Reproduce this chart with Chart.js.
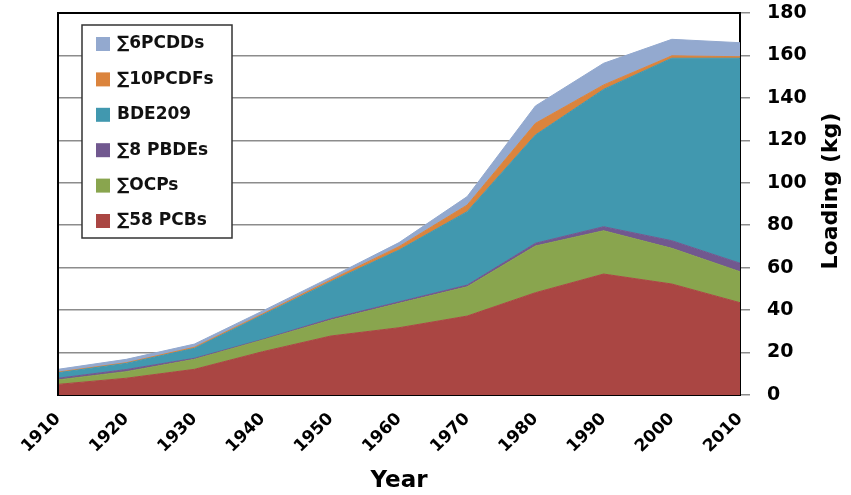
<!DOCTYPE html>
<html lang="en">
<head>
<meta charset="UTF-8" />
<title>Loading by year</title>
<script src="https://cdn.jsdelivr.net/npm/chart.js@4.4.0/dist/chart.umd.min.js"></script>
<style>
  html, body { margin: 0; padding: 0; background: #fff; }
</style>
</head>
<body>
<canvas id="chart" width="851" height="495"></canvas>
<script>
  var years = ['1910', '1920', '1930', '1940', '1950', '1960', '1970', '1980', '1990', '2000', '2010'];

  // loading per group, kg (stacked bottom to top)
  var pcbs   = [5.0, 7.9, 12.1, 20.4, 27.8, 31.7, 37.2, 48.2, 57.0, 52.3, 43.5];
  var ocps   = [2.1, 3.1, 4.7, 5.5, 7.5, 11.5, 13.8, 22.0, 20.4, 16.8, 14.6];
  var pbdes  = [0.8, 1.0, 0.5, 0.3, 0.7, 0.7, 0.8, 1.3, 1.9, 3.6, 4.0];
  var bde209 = [2.6, 2.9, 4.7, 11.5, 17.4, 24.4, 34.6, 51.0, 64.7, 86.0, 96.6];
  var pcdfs  = [0.3, 0.3, 0.5, 0.5, 0.8, 1.6, 3.1, 5.5, 2.1, 1.1, 0.7];
  var pcdds  = [1.3, 1.6, 1.5, 1.4, 1.3, 1.9, 4.0, 8.2, 10.2, 7.8, 6.6];

  var seriesNames  = ['∑58 PCBs', '∑OCPs', '∑8 PBDEs', 'BDE209', '∑10PCDFs', '∑6PCDDs'];
  var seriesData   = [pcbs, ocps, pbdes, bde209, pcdfs, pcdds];
  var seriesColors = ['#AA4643', '#89A54E', '#71588F', '#4198AF', '#DB843D', '#93A9CF'];

  var FONT = '"DejaVu Sans", Verdana, sans-serif';

  // black plot frame, drawn under the areas; left edge redrawn on top
  var plotFrame = {
    id: 'plotFrame',
    beforeDatasetsDraw: function (chart) {
      var a = chart.chartArea, ctx = chart.ctx;
      ctx.save();
      ctx.strokeStyle = '#000';
      ctx.lineWidth = 2;
      ctx.strokeRect(a.left, a.top, a.right - a.left, a.bottom - a.top);
      ctx.restore();
    },
    afterDatasetsDraw: function (chart) {
      var a = chart.chartArea, ctx = chart.ctx;
      ctx.save();
      ctx.strokeStyle = '#000';
      ctx.lineWidth = 2;
      ctx.beginPath();
      ctx.moveTo(a.left, a.top);
      ctx.lineTo(a.left, a.bottom);
      ctx.stroke();
      ctx.restore();
    }
  };

  // boxed legend inside the plot, top series first
  var boxLegend = {
    id: 'boxLegend',
    afterDraw: function (chart) {
      var a = chart.chartArea, ctx = chart.ctx;
      var sets = chart.data.datasets.slice().reverse();
      var x = a.left + 24, y = a.top + 12, w = 150, h = 213;
      ctx.save();
      ctx.fillStyle = '#fff';
      ctx.fillRect(x, y, w, h);
      ctx.strokeStyle = '#333';
      ctx.lineWidth = 1.5;
      ctx.strokeRect(x, y, w, h);
      ctx.font = 'bold 17px ' + FONT;
      ctx.textBaseline = 'middle';
      sets.forEach(function (ds, i) {
        var cy = y + 19 + i * 35.4;
        ctx.fillStyle = ds.backgroundColor;
        ctx.fillRect(x + 14, cy - 7, 14, 14);
        ctx.fillStyle = '#111';
        ctx.fillText(ds.label, x + 35, cy);
      });
      ctx.restore();
    }
  };

  // right-hand axis title, reading bottom to top
  var yTitle = {
    id: 'yTitle',
    afterDraw: function (chart) {
      var ctx = chart.ctx;
      ctx.save();
      ctx.translate(831, 191);
      ctx.rotate(-Math.PI / 2);
      ctx.font = 'bold 22px ' + FONT;
      ctx.fillStyle = '#000';
      ctx.textAlign = 'center';
      ctx.textBaseline = 'middle';
      ctx.fillText('Loading (kg)', 0, 0);
      ctx.restore();
    }
  };

  var chart = new Chart(document.getElementById('chart'), {
    type: 'line',
    data: {
      labels: years,
      datasets: seriesData.map(function (values, i) {
        return {
          label: seriesNames[i],
          data: values,
          backgroundColor: seriesColors[i],
          borderColor: seriesColors[i],
          borderWidth: 1,
          pointRadius: 0,
          tension: 0,
          fill: i === 0 ? 'origin' : '-1'
        };
      })
    },
    options: {
      responsive: false,
      animation: false,
      layout: { padding: { left: 58, top: 13, right: 0, bottom: 0 } },
      plugins: {
        legend: { display: false },
        tooltip: { enabled: false }
      },
      scales: {
        x: {
          grid: { display: false },
          border: { color: '#666', width: 2 },
          ticks: {
            autoSkip: false,
            minRotation: 45,
            maxRotation: 45,
            padding: 6,
            color: '#000',
            font: { family: FONT, weight: 'bold', size: 17 }
          },
          title: {
            display: true,
            text: 'Year',
            color: '#000',
            padding: 0,
            font: { family: FONT, weight: 'bold', size: 23 }
          },
          afterFit: function (s) { s.height = 100; }
        },
        y: {
          position: 'right',
          stacked: true,
          min: 0,
          max: 180,
          grid: { color: '#8c8c8c', lineWidth: 1.5, tickLength: 10 },
          border: { color: '#8c8c8c', width: 2 },
          ticks: {
            stepSize: 20,
            padding: 17,
            color: '#000',
            font: { family: FONT, weight: 'bold', size: 19 }
          },
          afterFit: function (s) {
            s.width = 111;
            s.paddingTop = 0;
            s.paddingBottom = 0;
          }
        }
      }
    },
    plugins: [plotFrame, boxLegend, yTitle]
  });
</script>
</body>
</html>
